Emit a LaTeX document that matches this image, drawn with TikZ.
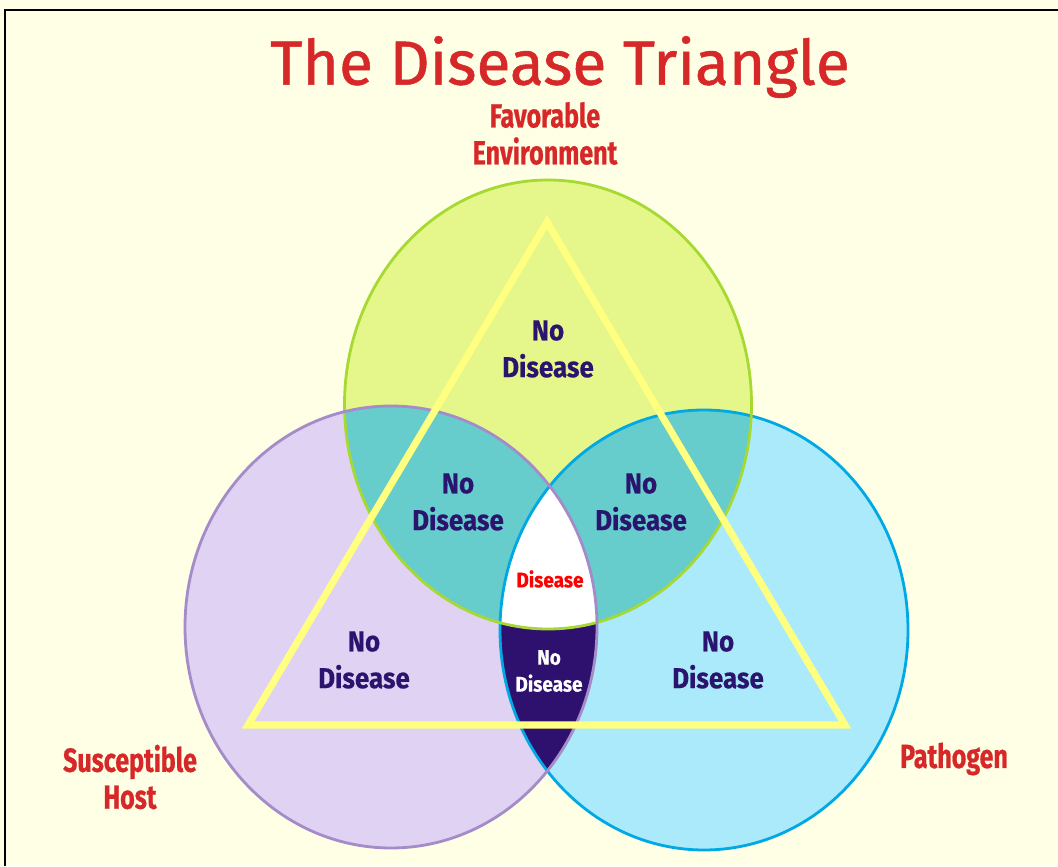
\documentclass[tikz,border=0pt]{standalone}
\usepackage{fontspec}
\usepackage{tikz}
\usetikzlibrary{positioning}
\newfontfamily\titlefont{Fira Sans}[FakeBold=0.8]
\newfontfamily\labelfont{Fira Sans}[FakeStretch=0.75, FakeBold=0.6]
\newfontfamily\ndfont{Fira Sans}[FakeStretch=0.9, FakeBold=0.4]
\definecolor{bgyellow}{RGB}{255, 255, 230}
\definecolor{titlered}{RGB}{214, 40, 40}
\definecolor{ndblue}{RGB}{42, 20, 110}
\definecolor{envfill}{RGB}{229, 247, 138}
\definecolor{envline}{RGB}{166, 217, 50}
\definecolor{hostfill}{RGB}{224, 210, 242}
\definecolor{hostline}{RGB}{165, 140, 200}
\definecolor{pathfill}{RGB}{170, 234, 250}
\definecolor{pathline}{RGB}{0, 168, 228}
\definecolor{overlap}{RGB}{102, 204, 204}
\definecolor{darkpurple}{RGB}{46, 16, 110}
\definecolor{triyellow}{RGB}{255, 255, 128}

\begin{document}
\begin{tikzpicture}[
        envring/.style={x radius=4.07, y radius=4.49},
        hostring/.style={x radius=4.12, y radius=4.42},
        pathring/.style={x radius=4.08, y radius=4.40},
        ring/.style={line width=1.6pt},
        tri/.style={draw=triyellow, line width=4pt, miter limit=20},
        lbl/.style={font=\labelfont\bfseries\fontsize{19}{21}\selectfont,
            text=titlered, align=center},
        nd/.style={font=\ndfont\bfseries\fontsize{16.4}{21}\selectfont,
            text=ndblue, align=center},
        ndsmall/.style={font=\ndfont\bfseries\fontsize{12}{15.3}\selectfont,
            align=center}
    ]
    \useasboundingbox (0,0) rectangle (21.16,17.32);
    \fill[bgyellow] (0,0) rectangle (21.16,17.32);
    \draw[line width=0.8pt] (0.1,0) -- (0.1,17.12) -- (21.16,17.12);

    % circle centres
    \coordinate (env) at (10.96,9.23);
    \coordinate (host) at (7.82,4.78);
    \coordinate (path) at (14.08,4.72);

    % plain fills
    \fill[envfill] (env) ellipse [envring];
    \fill[hostfill] (host) ellipse [hostring];
    \fill[pathfill] (path) ellipse [pathring];

    % overlaps
    \begin{scope}
        \clip (env) ellipse [envring];
        \fill[overlap] (host) ellipse [hostring];
        \fill[overlap] (path) ellipse [pathring];
    \end{scope}
    \begin{scope}
        \clip (host) ellipse [hostring];
        \fill[darkpurple] (path) ellipse [pathring];
        \clip (path) ellipse [pathring];
        \fill[white] (env) ellipse [envring];
    \end{scope}

    % outlines
    \draw[ring, pathline] (path) ellipse [pathring];
    \draw[ring, envline] (env) ellipse [envring];
    \draw[ring, hostline] (host) ellipse [hostring];

    % the triangle
    \coordinate (apex) at (10.94,12.88);
    \coordinate (bl) at (4.96,2.82);
    \coordinate (br) at (16.90,2.82);
    \draw[tri] (apex) -- (br) -- (bl) -- cycle;

    % texts
    \node[font=\titlefont\fontsize{35.5}{40}\selectfont, text=titlered]
        (title) at (11.20,15.98) {The Disease Triangle};
    \node[lbl] (envlbl) at (10.90,14.65) {Favorable\\Environment};
    \node[lbl] (hostlbl) at (2.60,1.78) {Susceptible\\Host};
    \node[lbl] (pathlbl) at (19.08,2.14) {Pathogen};

    \node[nd] (nd1) at (10.96,10.34) {No\\Disease};
    \node[nd] (nd2) at (9.16,7.28) {No\\Disease};
    \node[nd] (nd3) at (12.82,7.28) {No\\Disease};
    \node[nd] (nd4) at (7.28,4.12) {No\\Disease};
    \node[nd] (nd5) at (14.36,4.12) {No\\Disease};
    \node[ndsmall, text=red] (dis) at (11.00,5.74) {Disease};
    \node[ndsmall, text=white] (nd6) at (10.98,3.90) {No\\Disease};
\end{tikzpicture}
\end{document}
